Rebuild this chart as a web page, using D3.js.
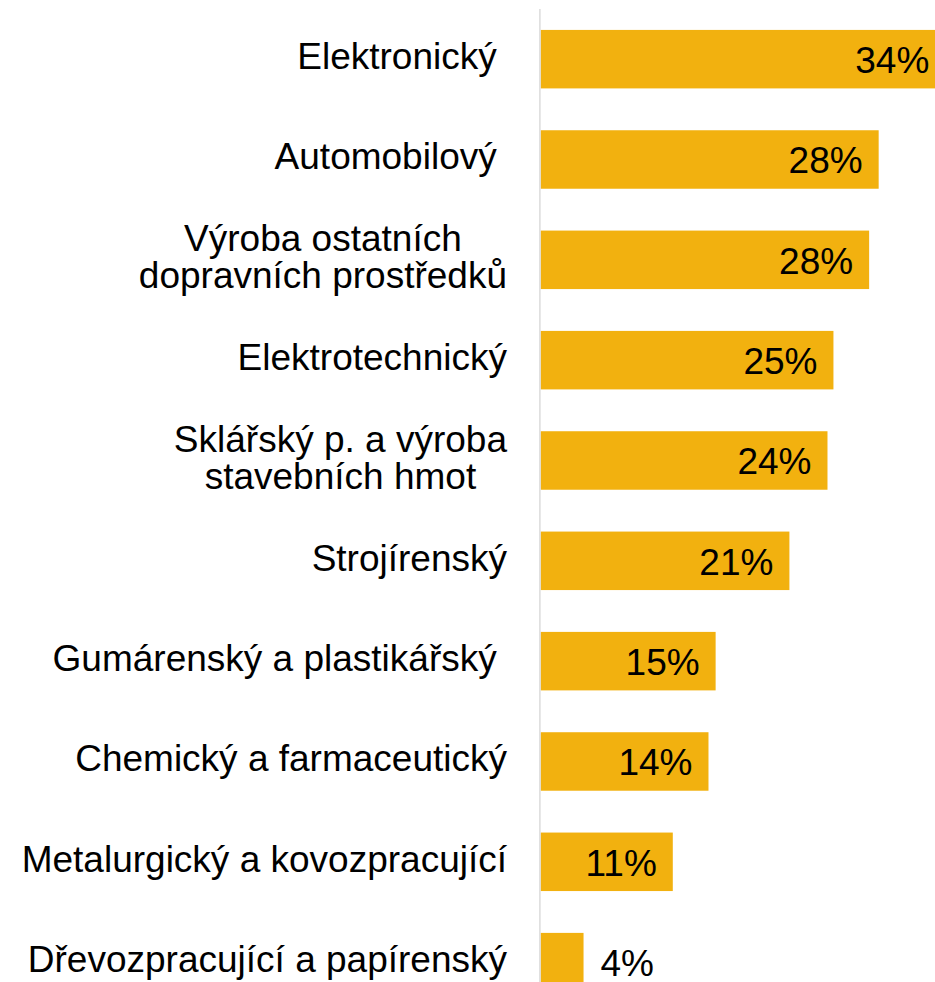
<!DOCTYPE html>
<html>
<head>
<meta charset="utf-8">
<script src="https://cdn.jsdelivr.net/npm/d3@7"></script>
<style>
  html, body { margin: 0; padding: 0; background: #fff; overflow: hidden; }
  svg { display: block; }
  text { font-family: "Liberation Sans", Arial, sans-serif; fill: #000; white-space: pre; }
</style>
</head>
<body>
<svg id="chart" width="935" height="982"></svg>
<script>
// Data
const categories = [
  "Elektronický ",
  "Automobilový ",
  "Výroba ostatních\ndopravních prostředků",
  "Elektrotechnický",
  "Sklářský p. a výroba\nstavebních hmot",
  "Strojírenský",
  "Gumárenský a plastikářský ",
  "Chemický a farmaceutický",
  "Metalurgický a kovozpracující",
  "Dřevozpracující a papírenský"
];
const values = [34.0, 28.4, 27.6, 24.6, 24.1, 20.9, 14.7, 14.1, 11.1, 3.6];
const valueLabels = ["34%", "28%", "28%", "25%", "24%", "21%", "15%", "14%", "11%", "4%"];

const svg = d3.select("#chart");
const fontSize = 37;
const labelRight = 507;

const y = d3.scaleBand()
  .domain(categories)
  .range([9, 9 + 10 * 100.33])
  .paddingInner(0.417)
  .paddingOuter(0.2085);

const x = d3.scaleLinear()
  .domain([0, 35])
  .range([540.7, 540.7 + 35 * 11.9]);

// bars
svg.append("g").selectAll("rect")
  .data(values)
  .join("rect")
  .attr("x", x(0))
  .attr("y", (d, i) => y(categories[i]))
  .attr("width", d => x(d) - x(0))
  .attr("height", y.bandwidth())
  .attr("fill", "#F2B10F");

// axis line
svg.append("line")
  .attr("x1", 539.9).attr("x2", 539.9)
  .attr("y1", 9).attr("y2", 1020)
  .attr("stroke", "#D9D9D9")
  .attr("stroke-width", 1.4);

// value labels
svg.append("g").selectAll("text")
  .data(values)
  .join("text")
  .attr("font-size", fontSize)
  .attr("x", d => d < 5 ? x(d) + 17 : x(d) - 16)
  .attr("text-anchor", d => d < 5 ? "start" : "end")
  .attr("y", (d, i) => y(categories[i]) + y.bandwidth() / 2 + 14)
  .text((d, i) => valueLabels[i]);

// category labels
const capHalf = 13.3;
const lineH = 37;
const gCat = svg.append("g");
categories.forEach((c, i) => {
  const lines = c.split("\n");
  const center = y(c) + y.bandwidth() / 2 - 3.5;
  if (lines.length === 1) {
    gCat.append("text")
      .attr("font-size", fontSize)
      .attr("text-anchor", "end")
      .attr("x", labelRight)
      .attr("y", center + capHalf)
      .text(lines[0]);
  } else {
    const t = gCat.append("text")
      .attr("font-size", fontSize)
      .attr("text-anchor", "middle");
    const first = center - (lines.length - 1) * lineH / 2 + capHalf;
    const tspans = lines.map((l, k) => t.append("tspan")
      .attr("y", first + k * lineH)
      .text(l));
    const maxW = d3.max(tspans, s => s.node().getComputedTextLength());
    tspans.forEach(s => s.attr("x", labelRight - maxW / 2));
  }
});
</script>
</body>
</html>
